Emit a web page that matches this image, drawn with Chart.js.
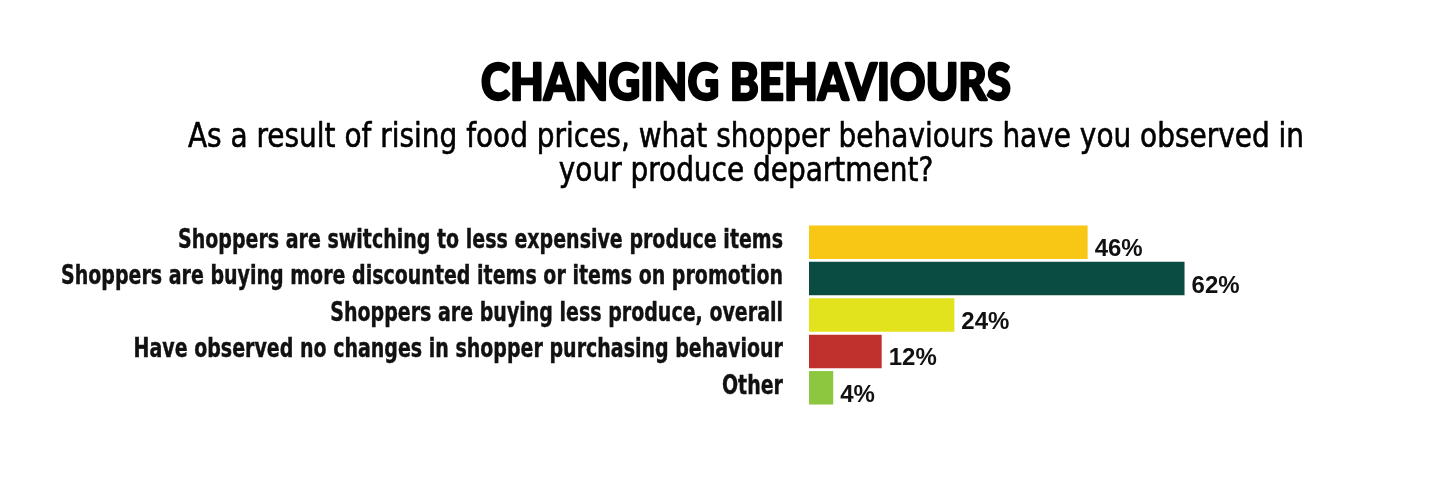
<!DOCTYPE html>
<html>
<head>
<meta charset="utf-8">
<script src="https://cdn.jsdelivr.net/npm/chart.js@4.4.1/dist/chart.umd.min.js"></script>
<style>
  html, body { margin: 0; background: #fff; }
  #wrap { width: 1440px; height: 496px; position: relative; }
</style>
</head>
<body>
<div id="wrap"><canvas id="chart"></canvas></div>
<script>
  const titleText = "CHANGING BEHAVIOURS";
  const subtitleLines = [
    "As a result of rising food prices, what shopper behaviours have you observed in",
    "your produce department?",
  ];
  const categories = [
    "Shoppers are switching to less expensive produce items",
    "Shoppers are buying more discounted items or items on promotion",
    "Shoppers are buying less produce, overall",
    "Have observed no changes in shopper purchasing behaviour",
    "Other",
  ];
  const percentages = [46, 62, 24, 12, 4];
  const barColors = ["#f8c614", "#0a4c42", "#e2e31d", "#c0302d", "#8dc63f"];

  const narrow = "'Liberation Sans Narrow', 'DejaVu Sans Condensed', 'Liberation Sans', sans-serif";

  // draw text squeezed horizontally by factor sx
  function squeezedText(ctx, text, x, y, sx, stroke) {
    ctx.save();
    ctx.translate(x, y);
    ctx.scale(sx, 1);
    if (stroke) ctx.strokeText(text, 0, 0);
    ctx.fillText(text, 0, 0);
    ctx.restore();
  }

  // title + question drawn above the plot
  const headerPlugin = {
    id: "header",
    afterDraw(chart) {
      const ctx = chart.ctx;
      ctx.save();
      ctx.fillStyle = "#000";
      ctx.strokeStyle = "#000";
      ctx.lineJoin = "round";
      ctx.textAlign = "center";
      ctx.textBaseline = "alphabetic";

      ctx.font = "900 52px Lato, 'DejaVu Sans', sans-serif";
      ctx.lineWidth = 2.4;
      let w = ctx.measureText(titleText).width;
      squeezedText(ctx, titleText, 746, 100, 530 / w, true);

      ctx.font = "34px " + narrow;
      ctx.lineWidth = 0.6;
      w = ctx.measureText(subtitleLines[0]).width;
      const s = 1116 / w;
      subtitleLines.forEach((line, i) => {
        squeezedText(ctx, line, 746, 147 + i * 34, s, true);
      });
      ctx.restore();
    },
  };

  // category names next to the y axis, positioned from the y scale
  const categoryLabels = {
    id: "categoryLabels",
    afterDraw(chart) {
      const ctx = chart.ctx;
      const yScale = chart.scales.y;
      const right = chart.chartArea.left - 26;
      ctx.save();
      ctx.fillStyle = "#111";
      ctx.strokeStyle = "#111";
      ctx.lineWidth = 0.4;
      ctx.font = "bold 26px " + narrow;
      ctx.textAlign = "right";
      ctx.textBaseline = "middle";
      const longest = Math.max(...categories.map((c) => ctx.measureText(c).width));
      const s = 722 / longest;
      categories.forEach((label, i) => {
        squeezedText(ctx, label, right, yScale.getPixelForValue(i) - 1, s, true);
      });
      ctx.restore();
    },
  };

  const valueLabels = {
    id: "valueLabels",
    afterDatasetsDraw(chart) {
      const ctx = chart.ctx;
      const meta = chart.getDatasetMeta(0);
      ctx.save();
      ctx.fillStyle = "#111";
      ctx.font = "bold 24px 'Liberation Sans', sans-serif";
      ctx.textAlign = "left";
      ctx.textBaseline = "alphabetic";
      meta.data.forEach((bar, i) => {
        ctx.fillText(percentages[i] + "%", bar.x + 7, bar.y + 14);
      });
      ctx.restore();
    },
  };

  new Chart(document.getElementById("chart"), {
    type: "bar",
    data: {
      labels: categories,
      datasets: [
        {
          data: percentages,
          backgroundColor: barColors,
          borderWidth: 0,
          barPercentage: 1,
          categoryPercentage: 0.92,
        },
      ],
    },
    options: {
      indexAxis: "y",
      responsive: true,
      maintainAspectRatio: false,
      animation: false,
      layout: {
        padding: { top: 224, bottom: 90, left: 0, right: 207 },
      },
      plugins: {
        legend: { display: false },
        tooltip: { enabled: false },
      },
      scales: {
        x: { display: false, min: 0, max: 70 },
        y: {
          grid: { display: false },
          border: { display: false },
          ticks: { display: false },
          afterFit(scale) {
            scale.width = 809;
          },
        },
      },
    },
    plugins: [headerPlugin, categoryLabels, valueLabels],
  });
</script>
</body>
</html>
